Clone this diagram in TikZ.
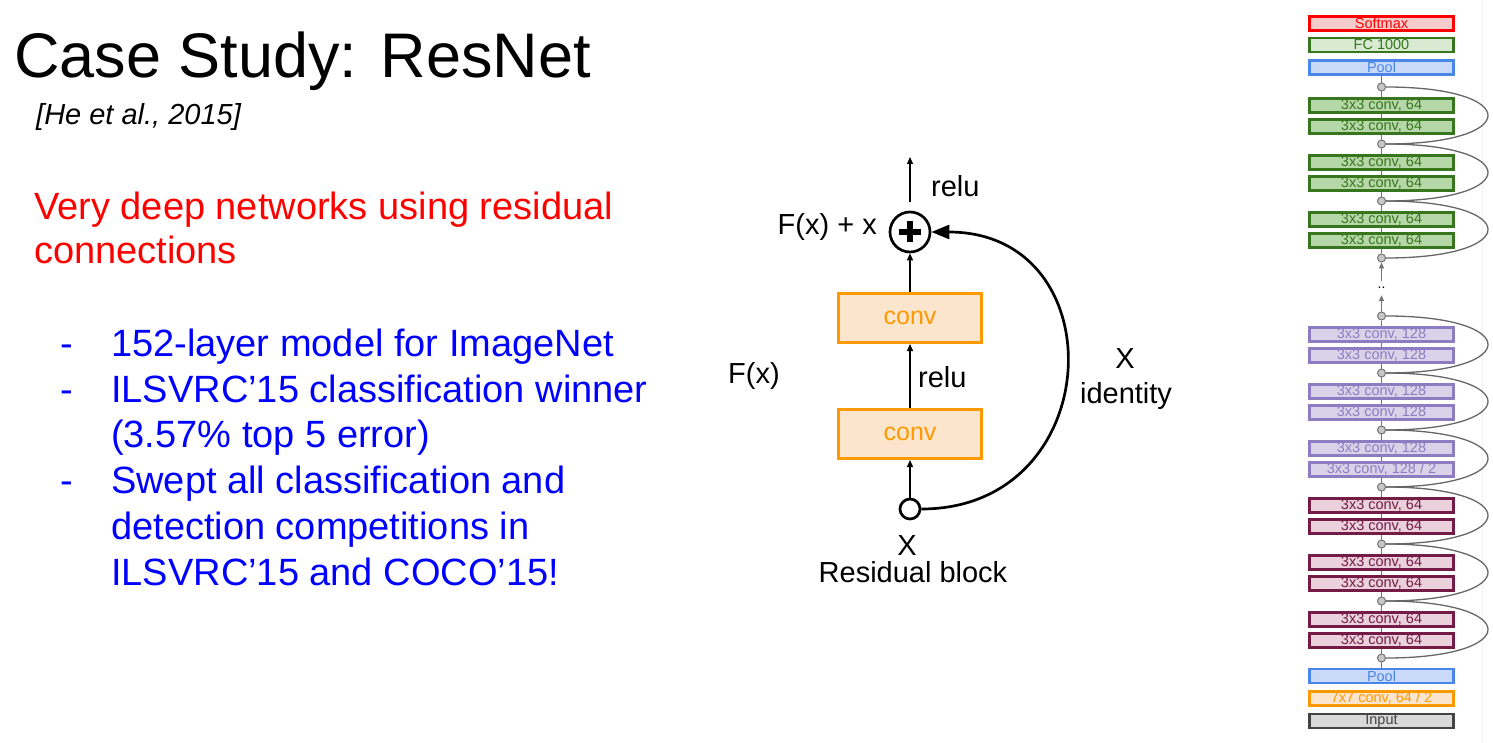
\documentclass[tikz,border=0pt]{standalone}
\usepackage{fontspec}
\setmainfont{Liberation Sans}
\usepackage{tikz}
\usetikzlibrary{calc, positioning, arrows.meta, backgrounds}
\definecolor{redD}{HTML}{FF0000}
\definecolor{redL}{HTML}{F4CCCC}
\definecolor{fcD}{HTML}{38761D}
\definecolor{fcL}{HTML}{D9EAD3}
\definecolor{bluD}{HTML}{4A86E8}
\definecolor{bluL}{HTML}{C9DAF8}
\definecolor{grnD}{HTML}{38761D}
\definecolor{grnL}{HTML}{B6D7A8}
\definecolor{lavD}{HTML}{8E7CC3}
\definecolor{lavL}{HTML}{D9D2E9}
\definecolor{marD}{HTML}{741B47}
\definecolor{marL}{HTML}{EAD1DC}
\definecolor{orgD}{HTML}{FF9900}
\definecolor{orgL}{HTML}{FCE5CD}
\definecolor{gryD}{HTML}{434343}
\definecolor{gryL}{HTML}{D9D9D9}
\tikzstyle{arrow} = [line width=1.3pt, -{Triangle[length=7pt,width=6pt]}]
\tikzstyle{idarrow} = [line width=2.7pt, -{Triangle[length=18pt,width=14pt]}]
\tikzstyle{convbox} = [rectangle, draw=orgD, fill=orgL, text=orgD, line width=3pt, minimum width=143pt, minimum height=49pt, font=\fontsize{25}{25}\selectfont]
\tikzstyle{lbl} = [inner sep=0pt, font=\fontsize{29}{29}\selectfont]
\tikzstyle{bullet} = [inner sep=0pt, anchor=base west, blue, font=\fontsize{38}{38}\selectfont]
\tikzstyle{junction} = [circle, draw=black!55, fill=black!22, line width=1pt, minimum size=8pt, inner sep=0pt]
\tikzstyle{link} = [black!55, line width=1.4pt]
\tikzstyle{hop} = [black!60, line width=1.3pt]
\tikzstyle{adder} = [circle, draw, line width=2.7pt, minimum size=40pt, inner sep=0pt,
  path picture={\draw[line width=5.5pt] ([xshift=-11pt]path picture bounding box.center) -- ([xshift=11pt]path picture bounding box.center)
    ([yshift=-10.5pt]path picture bounding box.center) -- ([yshift=10.5pt]path picture bounding box.center);}]
\tikzset{netlayer/.style={rectangle, draw=#1D, fill=#1L, text=#1D, line width=2.6pt, minimum width=144pt, minimum height=14pt, inner sep=0pt, font=\fontsize{14.5}{14.5}\selectfont}}

\begin{document}
\begin{tikzpicture}[x=1pt,y=-1pt]
\useasboundingbox (0,0) rectangle (1493,743);
\draw[black!5] (1482,0) -- (1482,743);

% slide text
\node[inner sep=0pt, anchor=base west, font=\fontsize{63}{63}\selectfont] (title) at (14,78) {Case Study: ResNet};
\node[inner sep=0pt, anchor=base west, font=\fontsize{29}{29}\selectfont\itshape] (cite) at (36,125) {[He et al., 2015]};
\node[inner sep=0pt, anchor=base west, red, font=\fontsize{38}{38}\selectfont] (intro1) at (34,220) {Very deep networks using residual};
\node[inner sep=0pt, anchor=base west, red, font=\fontsize{38}{38}\selectfont] (intro2) at (34,264) {connections};
\foreach \yy [count=\i] in {356,402,493}
  \node[bullet] (dash\i) at (60,\yy) {-};
\foreach \txt/\yy [count=\i] in {152-layer model for ImageNet/356, ILSVRC’15 classification winner/402, (3.57\% top 5 error)/447,
    Swept all classification and/493, detection competitions in/539, ILSVRC’15 and COCO’15!/585}
  \node[bullet] (line\i) at (111,\yy) {\txt};

% residual block
\node[convbox] (conv2) at (910,318) {conv};
\node[convbox] (conv1) at (910,434) {conv};
\node[adder] (sum) at (910,232) {};
\node[circle, draw, line width=2.7pt, minimum size=20pt, inner sep=0pt] (xin) at (910,509) {};
\coordinate (out) at (910,157);
\draw[arrow] (xin) -- (conv1);
\draw[arrow] (conv1) -- (conv2);
\draw[arrow] (conv2) -- (sum);
\draw[arrow, shorten <=9pt] (sum) -- (out);
\draw[idarrow] (xin.east) .. controls +(186,0) and +(186,0) .. (sum.east);
\node[lbl, anchor=base west] (relu2) at (931,197) {relu};
\node[lbl, anchor=base east] (sumlbl) at (877,235) {F(x) + x};
\node[lbl, anchor=base west] (relu1) at (918,387) {relu};
\node[lbl, anchor=base west] (fx) at (728,383) {F(x)};
\node[lbl, anchor=base] (idx) at (1125,368) {X};
\node[lbl, anchor=base] (idlbl) at (1126,403) {identity};
\node[lbl, anchor=base] (xlbl) at (907,555) {X};
\node[lbl, anchor=base] (caption) at (913,582) {Residual block};

% full network column
\node[netlayer=red] (softmax) at (1381.5,23.5) {Softmax};
\node[netlayer=fc] (fc) at (1381.5,45) {FC 1000};
\node[netlayer=blu] (pooltop) at (1381.5,67.5) {Pool};
\foreach \i in {0,1,2}{
  \node[junction] (g\i) at (1381.5,{87+57*\i}) {};
  \node[netlayer=grn] (ga\i) at (1381.5,{105.5+57*\i}) {3x3 conv, 64};
  \node[netlayer=grn] (gb\i) at (1381.5,{126.5+57*\i}) {3x3 conv, 64};
}
\node[junction] (g3) at (1381.5,258) {};
\node[inner sep=0pt, minimum height=14pt, font=\fontsize{14}{14}\selectfont] (dots) at (1381.5,288) {..};
\foreach \i/\tb in {0/128, 1/128, 2/{128 / 2}}{
  \node[junction] (r\i) at (1381.5,{316+57*\i}) {};
  \node[netlayer=lav] (ra\i) at (1381.5,{334.5+57*\i}) {3x3 conv, 128};
  \node[netlayer=lav] (rb\i) at (1381.5,{355.5+57*\i}) {3x3 conv, \tb};
}
\foreach \i in {3,4,5}{
  \node[junction] (r\i) at (1381.5,{316+57*\i}) {};
  \node[netlayer=mar] (ra\i) at (1381.5,{334.5+57*\i}) {3x3 conv, 64};
  \node[netlayer=mar] (rb\i) at (1381.5,{355.5+57*\i}) {3x3 conv, 64};
}
\node[junction] (r6) at (1381.5,658) {};
\node[netlayer=blu] (poolbot) at (1381.5,676) {Pool};
\node[netlayer=org] (conv7) at (1381.5,698.5) {7x7 conv, 64 / 2};
\node[netlayer=gry] (input) at (1381.5,721) {Input};

\begin{scope}[on background layer]
\draw[link] (pooltop) -- (g3);
\draw[link] (r0) -- (poolbot);
\end{scope}
\draw[link, -{Triangle[length=6pt,width=5pt]}] (r0) -- (dots);
\draw[link, -{Triangle[length=6pt,width=5pt]}] (dots) -- (g3);
\foreach \i [evaluate=\i as \j using int(\i+1)] in {0,1,2}
  \draw[hop] (g\i.east) .. controls +(136,0) and +(136,0) .. (g\j.east);
\foreach \i [evaluate=\i as \j using int(\i+1)] in {0,...,5}
  \draw[hop] (r\i.east) .. controls +(136,0) and +(136,0) .. (r\j.east);
\end{tikzpicture}
\end{document}
